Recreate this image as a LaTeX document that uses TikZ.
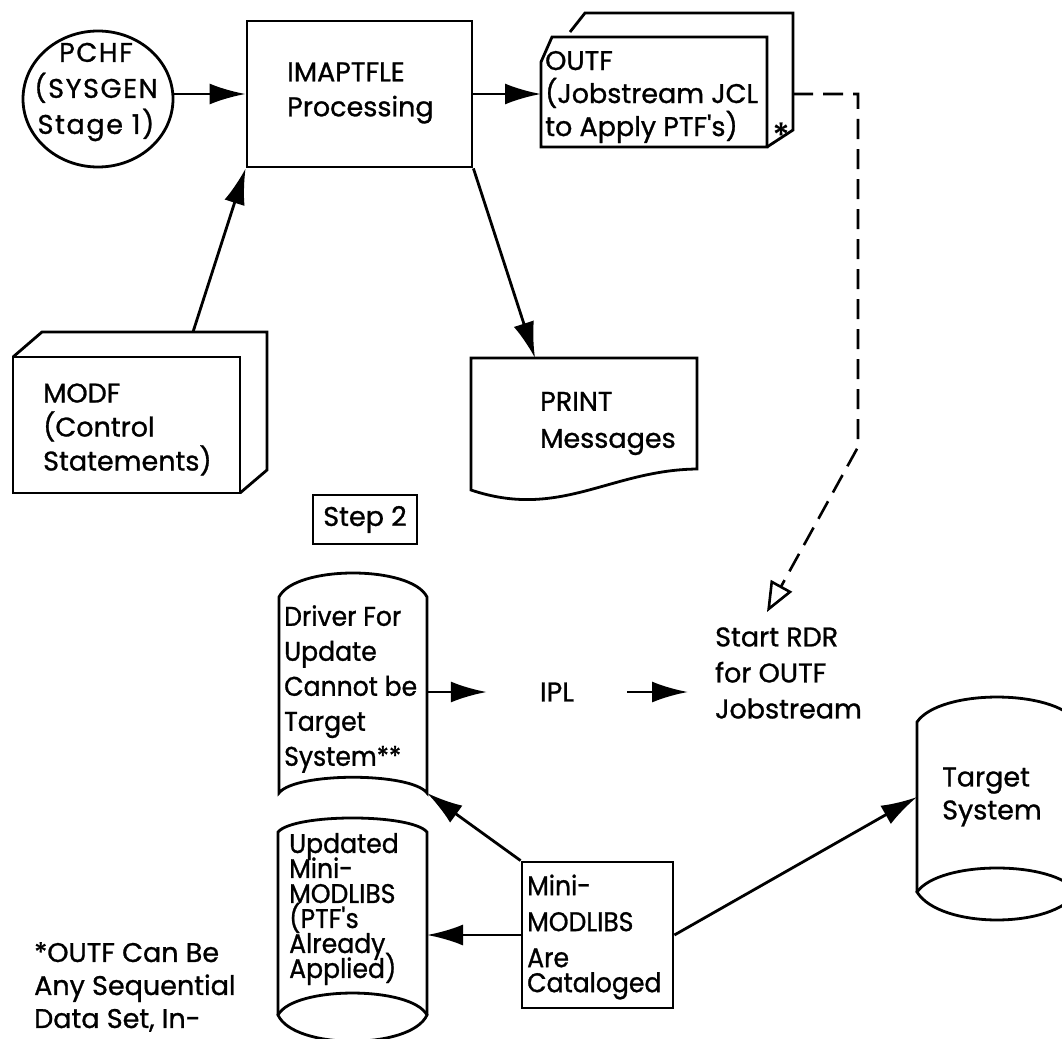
\documentclass[tikz,border=0pt]{standalone}
\usepackage{fontspec}
\setmainfont{Poppins}[FakeBold=1]
\usetikzlibrary{arrows.meta,shapes.geometric}
% text size with a fixed line pitch
\newcommand\lblfont[2]{\fontsize{#1}{#2}\selectfont\lineskiplimit -100pt\relax}
% slightly narrowed text for the tight boxes
\newcommand\narrowfont[2]{\lblfont{#1}{#2}\addfontfeatures{FakeStretch=0.93}}
\begin{document}
\begin{tikzpicture}[x=1pt,y=-1pt,
  outline/.style={draw=black,line width=2.8pt,line join=miter},
  boxnode/.style={outline,rectangle,inner sep=0pt},
  lbl/.style={inner sep=0pt,align=left,font=\lblfont{27}{35}},
  flow/.style={line width=2.8pt,-{Latex[length=36pt,width=21pt]}},
  jobflow/.style={line width=2.6pt,dash pattern=on 20pt off 10pt,
    -{Triangle[open,length=30pt,width=24pt]}},
]
\useasboundingbox (0,0) rectangle (1062,1038);
\clip (0,0) rectangle (1062,1038);

% ---- Step 1: IMAPTFLE run ----
\node[outline,ellipse,minimum width=150pt,minimum height=136pt,inner sep=0pt] (pchf) at (98,99) {};
\node[lbl,align=center,font=\lblfont{27}{36}\addfontfeatures{LetterSpace=6}] (pchftxt) at (96,92) {PCHF\\(SYSGEN\\Stage 1)};

\node[boxnode,minimum width=225pt,minimum height=146pt] (imap) at (359.5,94) {};
\node[lbl,anchor=west] (imaptxt) at (287,93) {IMAPTFLE\\Processing};

% OUTF card deck
\draw[outline] (541,62) -- (552,37) -- (767,37) -- (767,147) -- (541,147) -- cycle;
\draw[outline] (570,32) -- (585,13) -- (793,13) -- (793,130) -- (767,147);
\coordinate (outfW) at (541,94);
\coordinate (outfE) at (793,94);
\node[lbl,anchor=west,font=\lblfont{27}{33}] (outftxt) at (545,97)
  {OUTF\\(Jobstream JCL\\to Apply PTF\textquotesingle s)};
\node[lbl,font=\lblfont{34}{34}] (outfstar) at (781,135) {*};

% MODF deck
\draw[outline] (13,357) rectangle (240,493);
\draw[outline] (13,357) -- (42,332) -- (267,332) -- (267,470) -- (240,493);
\coordinate (modfN) at (193,332);
\node[lbl,anchor=west,font=\lblfont{27}{34}] (modftxt) at (43,429.5)
  {MODF\\(Control\\Statements)};

% PRINT document
\draw[outline] (471,358) -- (697,358) -- (697,469) .. controls (610,470) and (560,520) .. (471,490) -- cycle;
\coordinate (printN) at (535,358);
\node[lbl,anchor=west,font=\lblfont{27}{37}] (printtxt) at (540,423.5)
  {PRINT\\Messages};

% ---- Step 2 ----
\node[boxnode,line width=2.6pt,minimum width=104pt,minimum height=49pt,font=\lblfont{27}{35}] (step) at (365,519.5) {Step 2};

% driver volume
\draw[outline] (279,793) -- (279,597) .. controls (295,565) and (411,565) .. (427,597)
  -- (427,793) .. controls (411,772) and (295,772) .. cycle;
\coordinate (drvE) at (427,692);
\coordinate (drvSE) at (427,793);
\node[lbl,anchor=west,font=\narrowfont{27}{35}] (drvtxt) at (284,689)
  {Driver For\\Update\\Cannot be\\Target\\System**};

\node[lbl,minimum width=140pt,align=center] (ipl) at (557,692) {IPL};
\node[lbl,anchor=west,font=\lblfont{27}{36}] (start) at (715,673)
  {Start RDR\\for OUTF\\Jobstream};

% updated libraries volume
\draw[outline] (278,1015) -- (278,832) .. controls (294,813.3) and (411,813.3) .. (427,832) -- (427,1015);
\draw[outline] (278,1015) .. controls (294,985.7) and (411,985.7) .. (427,1015)
  .. controls (411,1050) and (294,1050) .. cycle;
\coordinate (updE) at (427,935);
\node[lbl,anchor=west,font=\narrowfont{27}{25}] (updtxt) at (289,909)
  {Updated\\Mini-\\MODLIBS\\(PTF\textquotesingle s\\Already\\Applied)};

\node[boxnode,minimum width=151pt,minimum height=146pt] (mini) at (597.5,935) {};
\node[lbl,anchor=west,font=\narrowfont{27}{36}] (minitxt) at (527,937)
  {Mini-\\MODLIBS\\Are\\[-11pt]Cataloged};

% target system volume
\draw[outline] (917,892) -- (917,722) .. controls (940,688.7) and (1054,688.7) .. (1077,722) -- (1077,892);
\draw[outline] (917,892) .. controls (940,860) and (1054,860) .. (1077,892)
  .. controls (1054,929.3) and (940,929.3) .. cycle;
\coordinate (tgtW) at (917,797);
\node[lbl,anchor=west,font=\lblfont{27}{33}] (tgttxt) at (942,797)
  {Target\\System};

% footnote
\node[lbl,anchor=west,font=\lblfont{27}{33}] (note) at (34,987)
  {*OUTF Can Be\\Any Sequential\\Data Set, In-};

% ---- connectors ----
\coordinate (jobA) at (858,94);
\coordinate (jobB) at (858,447);
\coordinate (jobIn) at (767,612);

\draw[flow] (pchf.east |- imap.west) -- (imap.west);
\draw[flow] (imap.east) -- (outfW);
\draw[flow] (modfN) -- (imap.south west);
\draw[flow] (imap.south east) -- (printN);
\draw[jobflow] (outfE) -- (jobA) -- (jobB) -- (jobIn);
\draw[flow] (drvE) -- (ipl.west);
\draw[flow,shorten >=27pt] (ipl.east) -- (ipl.east -| start.west);
\draw[flow] (mini.north west) -- (drvSE);
\draw[flow] (mini.west) -- (updE);
\draw[flow] (mini.east) -- (tgtW);
\end{tikzpicture}
\end{document}
